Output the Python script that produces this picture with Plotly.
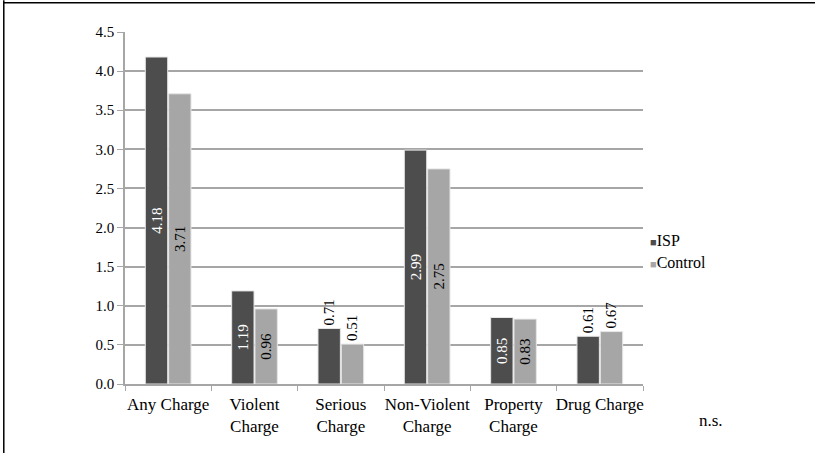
import plotly.graph_objects as go

categories = ["Any Charge", "Violent<br>Charge", "Serious<br>Charge", "Non-Violent<br>Charge", "Property<br>Charge", "Drug Charge"]
isp = [4.18, 1.19, 0.71, 2.99, 0.85, 0.61]
control = [3.71, 0.96, 0.51, 2.75, 0.83, 0.67]
isp_pos = ["inside", "inside", "outside", "inside", "inside", "outside"]
ctrl_pos = ["inside", "inside", "outside", "inside", "inside", "outside"]
y_ticks = [0.0, 0.5, 1.0, 1.5, 2.0, 2.5, 3.0, 3.5, 4.0, 4.5]
series_names = ["ISP", "Control"]
series_colors = ["#4d4d4d", "#a6a6a6"]

FONT = "Times New Roman, Liberation Serif, serif"

fig = go.Figure()
fig.add_trace(go.Bar(
    name=series_names[0], x=categories, y=isp,
    marker=dict(color=series_colors[0], line=dict(color="#e6e6e6", width=1)),
    text=[f"{v:.2f}" for v in isp], textposition=isp_pos, textangle=-90,
    insidetextanchor="middle",
    insidetextfont=dict(color="white", family=FONT, size=15),
    outsidetextfont=dict(color="black", family=FONT, size=15),
    cliponaxis=False,
))
fig.add_trace(go.Bar(
    name=series_names[1], x=categories, y=control,
    marker=dict(color=series_colors[1], line=dict(color="#e6e6e6", width=1)),
    text=[f"{v:.2f}" for v in control], textposition=ctrl_pos, textangle=-90,
    insidetextanchor="middle",
    insidetextfont=dict(color="black", family=FONT, size=15),
    outsidetextfont=dict(color="black", family=FONT, size=15),
    cliponaxis=False,
))

legend_ann = []
for i, (nm, col) in enumerate(zip(series_names, series_colors)):
    legend_ann.append(dict(
        text=f"<span style='color:{col};font-size:11px'>■</span>{nm}",
        xref="paper", yref="paper", x=1.009, y=0.378 - i * 0.063 + 0.031,
        xanchor="left", yanchor="middle", showarrow=False,
        font=dict(family=FONT, size=16, color="black")))

fig.update_layout(
    width=815, height=453,
    margin=dict(l=125, r=172, t=32, b=69),
    paper_bgcolor="white", plot_bgcolor="white",
    barmode="group", bargap=0.46, bargroupgap=0.04,
    font=dict(family=FONT, size=14, color="black"),
    uniformtext=dict(minsize=15, mode="show"),
    showlegend=False,
    annotations=legend_ann + [dict(text="n.s.", xref="paper", yref="paper", x=1.105, y=-0.105,
                      xanchor="left", yanchor="middle", showarrow=False,
                      font=dict(family=FONT, size=17))],
    shapes=[
        dict(type="line", xref="paper", yref="paper", x0=-0.234, x1=-0.234, y0=1.09, y1=-0.3,
             line=dict(color="black", width=1.5)),
        dict(type="line", xref="paper", yref="paper", x0=-0.234, x1=1.5, y0=1.083, y1=1.083,
             line=dict(color="black", width=1.5)),
    ],
)
fig.update_yaxes(range=[0, 4.5], tickvals=y_ticks, ticktext=[f"{v:.1f}" for v in y_ticks],
                 showgrid=True, gridcolor="#a6a6a6", gridwidth=1.5,
                 showline=True, linecolor="#a6a6a6", linewidth=1.5,
                 ticks="outside", ticklen=6, tickcolor="#a6a6a6",
                 zeroline=False, automargin=False, tickfont=dict(family=FONT, size=15))
fig.update_xaxes(showline=True, linecolor="#a6a6a6", linewidth=1.5,
                 ticks="outside", ticklen=5, tickcolor="#a6a6a6", tickson="boundaries",
                 tickangle=0, automargin=False, ticklabelstandoff=4,
                 tickfont=dict(family=FONT, size=17))

fig.write_html("out.html")
